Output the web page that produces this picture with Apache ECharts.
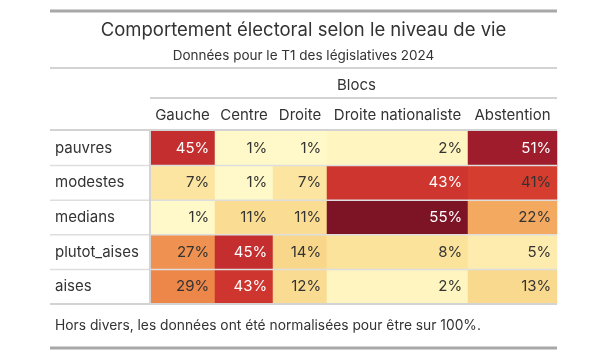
<!DOCTYPE html>
<html>
<head>
<meta charset="utf-8">
<script src="https://cdn.jsdelivr.net/npm/echarts@6/dist/echarts.min.js"></script>
<style>html,body{margin:0;padding:0;background:#fff}#c{width:607px;height:363px}</style>
</head>
<body>
<div id="c"></div>
<script>
// ---- data ----
const titleText = 'Comportement électoral selon le niveau de vie';
const subtitleText = 'Données pour le T1 des législatives 2024';
const spannerText = 'Blocs';
const footnoteText = 'Hors divers, les données ont été normalisées pour être sur 100%.';
const rows = ['pauvres', 'modestes', 'medians', 'plutot_aises', 'aises'];
const blocs = ['Gauche', 'Centre', 'Droite', 'Droite nationaliste', 'Abstention'];
const gauche = [45, 7, 1, 27, 29];
const centre = [1, 1, 11, 45, 43];
const droite = [1, 7, 11, 14, 12];
const droiteNationaliste = [2, 43, 55, 8, 2];
const abstention = [51, 41, 22, 5, 13];

// ---- layout ----
const seriesValues = [gauche, centre, droite, droiteNationaliste, abstention];
const colEdges = [150, 215, 273, 327, 468, 557];
const tableLeft = 50, tableRight = 557;
const bodyTop = 131, bodyBottom = 304;
const rowH = (bodyBottom - bodyTop) / rows.length;
const FONT = 'Inter';
const TXT = '#333333';

const grids = [], xAxes = [], yAxes = [], series = [];
blocs.forEach((b, i) => {
  grids.push({left: colEdges[i], width: colEdges[i + 1] - colEdges[i], top: bodyTop, height: bodyBottom - bodyTop});
  xAxes.push({
    type: 'category', gridIndex: i, position: 'top', data: [b],
    axisLine: {show: false}, axisTick: {show: false}, splitLine: {show: false},
    axisLabel: {fontFamily: FONT, fontSize: 15, color: TXT, margin: 16, verticalAlign: 'middle'}
  });
  yAxes.push({
    type: 'category', gridIndex: i, inverse: true, data: rows,
    axisLine: {show: false}, axisTick: {show: false}, splitLine: {show: false},
    axisLabel: i === 0 ? {show: true, align: 'left', margin: 95, fontFamily: FONT, fontSize: 15, color: TXT} : {show: false}
  });
  series.push({
    type: 'heatmap', xAxisIndex: i, yAxisIndex: i,
    data: seriesValues[i].map((v, j) => ({value: [0, j, v], label: {color: v >= 42 ? '#ffffff' : TXT}})),
    label: {show: true, position: 'insideRight', distance: 6, fontFamily: FONT, fontSize: 15,
      formatter: p => p.value[2] + '%'},
    itemStyle: {borderWidth: 0},
    emphasis: {disabled: true}
  });
});

const graphics = [];
function hline(y, x1, x2, color, w) {
  graphics.push({type: 'line', z: 100, shape: {x1: x1, y1: y, x2: x2, y2: y}, style: {stroke: color, lineWidth: w}});
}
hline(11, tableLeft, tableRight, '#a8a8a8', 3);
hline(68, tableLeft, tableRight, '#d3d3d3', 2);
hline(98, colEdges[0], tableRight, '#d3d3d3', 2);
hline(130, tableLeft, tableRight, '#d3d3d3', 2);
for (let k = 1; k < rows.length; k++) hline(bodyTop + k * rowH, tableLeft, tableRight, '#dedede', 1.5);
hline(304, tableLeft, tableRight, '#d3d3d3', 2);
hline(348, tableLeft, tableRight, '#a8a8a8', 3);
graphics.push({type: 'line', z: 100, shape: {x1: colEdges[0], y1: 130, x2: colEdges[0], y2: 304}, style: {stroke: '#d3d3d3', lineWidth: 2}});
graphics.push({type: 'text', x: (colEdges[0] + tableRight) / 2 + 3, y: 85,
  style: {text: spannerText, fontFamily: FONT, fontSize: 15, fill: TXT, align: 'center', verticalAlign: 'middle'}});
graphics.push({type: 'text', x: 55, y: 326,
  style: {text: footnoteText, fontFamily: FONT, fontSize: 13.8, fill: TXT, align: 'left', verticalAlign: 'middle'}});

const chart = echarts.init(document.getElementById('c'), null, {renderer: 'canvas'});
chart.setOption({
  backgroundColor: '#ffffff',
  animation: false,
  title: [
    {text: titleText, left: 'center', top: 21, textStyle: {fontFamily: FONT, fontSize: 18.5, fontWeight: 'normal', color: TXT}, padding: 0},
    {text: subtitleText, left: 'center', top: 49, textStyle: {fontFamily: FONT, fontSize: 13.5, fontWeight: 'normal', color: TXT}, padding: 0}
  ],
  grid: grids,
  xAxis: xAxes,
  yAxis: yAxes,
  visualMap: {
    type: 'continuous', show: false, min: 1, max: 55, dimension: 2,
    seriesIndex: [0, 1, 2, 3, 4],
    inRange: {color: ['#fff8c8', '#fce39c', '#f8d68a', '#f4ae62', '#ee8c4d', '#e4622f', '#d43a2e', '#b52230', '#7d1426']}
  },
  series: series,
  graphic: graphics
});
</script>
</body>
</html>
